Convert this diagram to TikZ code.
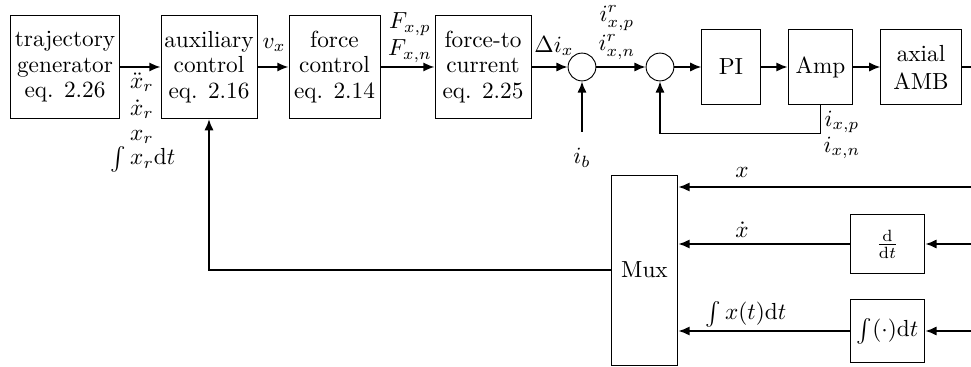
\documentclass[tikz,border=0pt]{standalone}
\usepackage{amsmath}
\usepackage{amssymb}
\usepackage{tikz}
\usetikzlibrary{positioning, arrows.meta, calc}
\tikzset{
  box/.style   ={draw, align=center, inner sep=0pt, minimum width=#1,
                 minimum height=1.56cm, font=\fontsize{10}{11}\selectfont, fill=white},
  sbox/.style  ={draw, align=center, inner sep=0pt, fill=white},
  sum/.style   ={draw, circle, minimum size=0.42cm, inner sep=0pt},
  flow/.style  ={-{Latex[length=1.7mm, width=1.4mm]}, thick},
  wire/.style  ={thick},
  lbl/.style   ={font=\normalsize, inner sep=0pt},
}

\begin{document}
\begin{tikzpicture}[x=0.01511cm, y=-0.01511cm]
  \useasboundingbox (0,0) rectangle (971,367);
  % forward path
  \node[box=1.66cm] (traj) at (65,67)  {trajectory\\generator\\eq. 2.26};
  \node[box=1.45cm] (aux)  at (209,67) {auxiliary\\control\\eq. 2.16};
  \node[box=1.375cm] (fc)  at (334.5,67) {force\\control\\eq. 2.14};
  \node[box=1.45cm] (f2c)  at (483,67) {force-to\\current\\eq. 2.25};
  \node[sum] (sum1) at (582,67) {};
  \node[sum] (sum2) at (660,67) {};
  \node[sbox, minimum width=0.88cm, minimum height=1.12cm] (pi)  at (731,67)   {PI};
  \node[sbox, minimum width=0.98cm, minimum height=1.12cm] (amp) at (820.5,67) {Amp};
  \node[sbox, minimum width=1.21cm, minimum height=1.12cm] (amb) at (921,67)   {axial\\AMB};
  % measurement path
  \node[sbox, minimum width=1.01cm, minimum height=2.87cm] (mux)   at (644.5,270) {Mux};
  \node[sbox, minimum width=1.13cm, minimum height=0.88cm] (ddt)   at (887.5,244) {$\frac{\mathrm{d}}{\mathrm{d}t}$};
  \node[sbox, minimum width=1.13cm, minimum height=0.95cm] (integ) at (887.5,331) {$\int(\cdot)\mathrm{d}t$};
  \coordinate (out)  at (971,67);
  \coordinate (xin)  at (971,187);
  \coordinate (vin)  at (971,244);
  \coordinate (iin)  at (971,331);
  \coordinate (ibin) at (582,132);

  \draw[flow] (traj) -- (aux);
  \draw[flow] (aux)  -- (fc);
  \draw[flow] (fc)   -- (f2c);
  \draw[flow] (f2c)  -- (sum1);
  \draw[flow] (sum1) -- (sum2);
  \draw[flow] (sum2) -- (pi);
  \draw[flow] (pi)   -- (amp);
  \draw[flow] (amp)  -- (amb);
  \draw[wire] (amb)  -- (out);
  \draw[flow] (ibin) -- (sum1);
  \draw[flow] (amp.south) -- ++(0,29) -| (sum2.south);

  \draw[flow] (xin) -- (xin -| mux.east);
  \draw[flow] (vin) -- (ddt);
  \draw[flow] (ddt) -- (ddt.west -| mux.east);
  \draw[flow] (iin) -- (integ);
  \draw[flow] (integ) -- (integ.west -| mux.east);
  \draw[flow] (mux.west) -| (aux.south);

  % signal labels
  \node[lbl] (ddxr) at (142,82)  {$\ddot{x}_r$};
  \node[lbl] (dxr)  at (142,109) {$\dot{x}_r$};
  \node[lbl] (xr)   at (142,137) {$x_r$};
  \node[lbl] (ixr)  at (143,159) {$\int x_r\mathrm{d}t$};
  \node[lbl] (vx)   at (274,45)  {$v_x$};
  \node[lbl] (fxp)  at (410,24)  {$F_{x,p}$};
  \node[lbl] (fxn)  at (410,51)  {$F_{x,n}$};
  \node[lbl] (dix)  at (554,46)  {$\Delta i_x$};
  \node[lbl] (irxp) at (617,18)  {$i^r_{x,p}$};
  \node[lbl] (irxn) at (617,47)  {$i^r_{x,n}$};
  \node[lbl] (ib)   at (582,158) {$i_b$};
  \node[lbl] (ixp)  at (842,122) {$i_{x,p}$};
  \node[lbl] (ixn)  at (842,148) {$i_{x,n}$};
  \node[lbl] (xlb)  at (742,172) {$x$};
  \node[lbl] (dxlb) at (742,230) {$\dot{x}$};
  \node[lbl] (ixlb) at (746,314) {$\int x(t)\mathrm{d}t$};
\end{tikzpicture}
\end{document}
